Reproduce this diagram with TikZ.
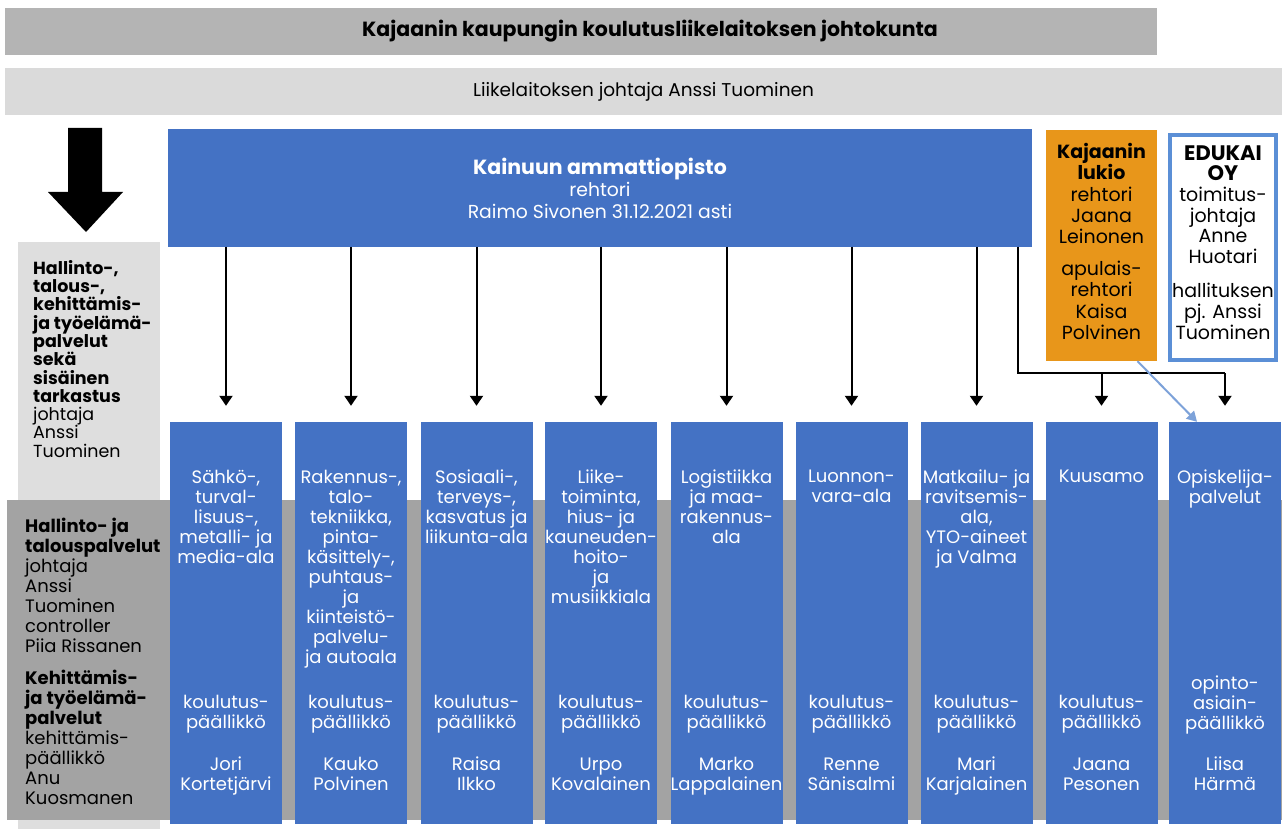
\documentclass[tikz,border=0pt]{standalone}
\usepackage{fontspec}
\setmainfont{Poppins}
\usetikzlibrary{arrows.meta}

\definecolor{kblue}{HTML}{4472C4}
\definecolor{boardgray}{HTML}{B4B4B4}
\definecolor{headgray}{HTML}{DADADA}
\definecolor{sidegray}{HTML}{DEDEDE}
\definecolor{bandgray}{HTML}{A3A3A3}
\definecolor{lukioorange}{HTML}{E8961A}
\definecolor{edublue}{HTML}{5B8FD6}
\definecolor{linkblue}{HTML}{7DA2D9}

\begin{document}
\begin{tikzpicture}[x=1pt, y=-1pt,
  every node/.style={inner sep=0pt},
  col/.style={fill=kblue, minimum width=112pt, minimum height=402pt},
  coltext/.style={text=white, align=center, anchor=north,
    font=\fontsize{18}{20}\selectfont},
  link/.style={-{Triangle[width=13pt,length=10pt]}, line width=2pt,
    shorten >=16pt},
]
  \useasboundingbox (0,0) rectangle (1282,829);

  % top bars
  \node[fill=boardgray, minimum width=1152pt, minimum height=47pt] (board) at (581,31.5) {};
  \node[font=\fontsize{20.5}{22}\selectfont\bfseries] (boardtxt) at ([xshift=69pt]board.center)
    {Kajaanin kaupungin koulutusliikelaitoksen johtokunta};
  \node[fill=headgray, minimum width=1277pt, minimum height=47pt,
    font=\fontsize{18.5}{20}\selectfont] (head) at (643.5,91.5)
    {Liikelaitoksen johtaja Anssi Tuominen};

  % left side panels
  \node[fill=sidegray, minimum width=142pt, minimum height=587pt, anchor=north west] (side) at (18,242) {};
  \node[fill=bandgray, minimum width=1275pt, minimum height=320pt, anchor=north west] (band) at (7,500) {};
  \fill (68,128) -- (102,128) -- (102,192) -- (123,192) -- (86,232) -- (48,192) -- (68,192) -- cycle;

  \node[align=left, anchor=north west, font=\fontsize{17.5}{18.3}\selectfont] (sidetxt) at (33,260)
    {\textbf{Hallinto-,}\\\textbf{talous-,}\\\textbf{kehittämis-}\\\textbf{ja työelämä-}\\
     \textbf{palvelut}\\\textbf{sekä}\\\textbf{sisäinen}\\\textbf{tarkastus}\\
     johtaja\\Anssi\\Tuominen};
  \node[align=left, anchor=north west, font=\fontsize{18}{20}\selectfont] (bandtxt) at (25,518)
    {\textbf{Hallinto- ja}\\\textbf{talouspalvelut}\\johtaja\\Anssi\\Tuominen\\controller\\
     Piia Rissanen\\[12pt]\textbf{Kehittämis-}\\\textbf{ja työelämä-}\\\textbf{palvelut}\\
     kehittämis-\\päällikkö\\Anu\\Kuosmanen};

  % main unit and the two others
  \node[fill=kblue, minimum width=864pt, minimum height=117pt, text=white, align=center,
    font=\fontsize{18.8}{22}\selectfont] (ka) at (600,188)
    {\textbf{\fontsize{20.5}{22}\selectfont Kainuun ammattiopisto}\\rehtori\\Raimo Sivonen 31.12.2021 asti};
  \node[fill=lukioorange, minimum width=111pt, minimum height=231pt] (lk) at (1101.5,245.5) {};
  \node[align=center, font=\fontsize{19}{21.2}\selectfont] (lktxt) at ([yshift=4pt]lk.center)
    {\textbf{Kajaanin}\\\textbf{lukio}\\rehtori\\Jaana\\Leinonen\\[11pt]apulais-\\rehtori\\Kaisa\\Polvinen};
  \node[draw=edublue, line width=4pt, fill=white, minimum width=106pt, minimum height=225pt] (edu) at (1223,247.5) {};
  \node[align=center, font=\fontsize{19}{20.6}\selectfont] (edutxt) at ([yshift=5pt]edu.center)
    {\textbf{\fontsize{21}{20.6}\selectfont EDUKAI}\\\textbf{\fontsize{21}{20.6}\selectfont OY}\\toimitus-\\johtaja\\Anne\\Huotari\\[14pt]hallituksen\\pj. Anssi\\Tuominen};

  % study fields
  \node[col] (c1) at (226,623) {};
  \node[col] (c2) at (351,623) {};
  \node[col] (c3) at (476.5,623) {};
  \node[col] (c4) at (601,623) {};
  \node[col] (c5) at (726.5,623) {};
  \node[col] (c6) at (851.5,623) {};
  \node[col] (c7) at (976.5,623) {};
  \node[col] (c8) at (1101.5,623) {};
  \node[col] (c9) at (1225,623) {};

  \node[coltext] (t1) at (226,470) {Sähkö-,\\turval-\\lisuus-,\\metalli- ja\\media-ala};
  \node[coltext] (t2) at (351,470) {Rakennus-,\\talo-\\tekniikka,\\pinta-\\käsittely-,\\puhtaus-\\ja\\kiinteistö-\\palvelu-\\ja autoala};
  \node[coltext] (t3) at (476.5,470) {Sosiaali-,\\terveys-,\\kasvatus ja\\liikunta-ala};
  \node[coltext] (t4) at (601,470) {Liike-\\toiminta,\\hius- ja\\kauneuden-\\hoito-\\ja\\musiikkiala};
  \node[coltext] (t5) at (726.5,470) {Logistiikka\\ja maa-\\rakennus-\\ala};
  \node[coltext] (t6) at (851.5,470) {Luonnon-\\vara-ala};
  \node[coltext] (t7) at (976.5,470) {Matkailu- ja\\ravitsemis-\\ala,\\YTO-aineet\\ja Valma};
  \node[coltext] (t8) at (1101.5,470) {Kuusamo};
  \node[coltext] (t9) at (1225,470) {Opiskelija-\\palvelut};

  \node[coltext] (p1) at (226,695) {koulutus-\\päällikkö\\[22pt]Jori\\Kortetjärvi};
  \node[coltext] (p2) at (351,695) {koulutus-\\päällikkö\\[22pt]Kauko\\Polvinen};
  \node[coltext] (p3) at (476.5,695) {koulutus-\\päällikkö\\[22pt]Raisa\\Ilkko};
  \node[coltext] (p4) at (601,695) {koulutus-\\päällikkö\\[22pt]Urpo\\Kovalainen};
  \node[coltext] (p5) at (726.5,695) {koulutus-\\päällikkö\\[22pt]Marko\\Lappalainen};
  \node[coltext] (p6) at (851.5,695) {koulutus-\\päällikkö\\[22pt]Renne\\Sänisalmi};
  \node[coltext] (p7) at (976.5,695) {koulutus-\\päällikkö\\[22pt]Mari\\Karjalainen};
  \node[coltext] (p8) at (1101.5,695) {koulutus-\\päällikkö\\[22pt]Jaana\\Pesonen};
  \node[coltext] (p9) at (1225,676) {opinto-\\asiain-\\päällikkö\\[21pt]Liisa\\Härmä};

  % connectors
  \draw[link] (c1 |- ka.south) -- (c1.north);
  \draw[link] (c2 |- ka.south) -- (c2.north);
  \draw[link] (c3 |- ka.south) -- (c3.north);
  \draw[link] (c4 |- ka.south) -- (c4.north);
  \draw[link] (c5 |- ka.south) -- (c5.north);
  \draw[link] (c6 |- ka.south) -- (c6.north);
  \draw[link] (c7 |- ka.south) -- (c7.north);
  \coordinate (bend) at (1018,373);
  \coordinate (branch) at (1225,373);
  \draw[line width=2pt] (bend |- ka.south) -- (bend) -- (branch);
  \draw[link] (branch) -- (c9.north);
  \draw[link] (c8 |- bend) -- (c8.north);
  \draw[linkblue, line width=2pt, -{Triangle[width=11pt,length=10pt]}]
    ([xshift=36pt]lk.south) -- ([xshift=-28pt]c9.north);
\end{tikzpicture}
\end{document}
